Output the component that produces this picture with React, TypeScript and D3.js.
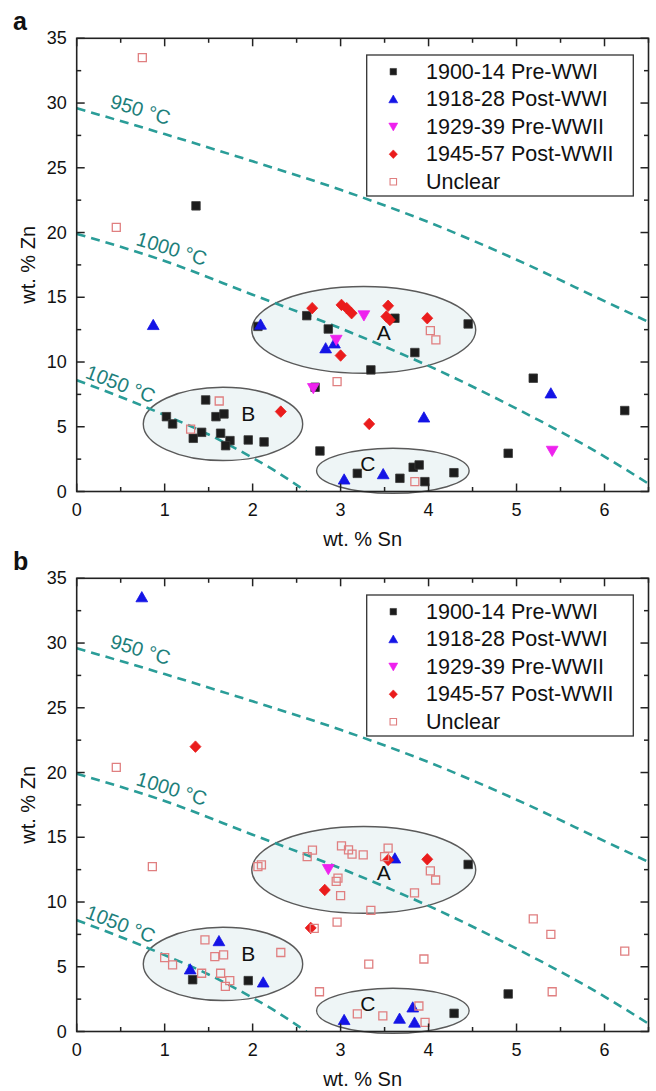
import React from "react";
import * as d3 from "d3";

// ---------- axis / tick data ----------
const xTickValues = [0, 1, 2, 3, 4, 5, 6];
const xMinorValues = [0.5, 1.5, 2.5, 3.5, 4.5, 5.5, 6.5];
const yTickValues = [0, 5, 10, 15, 20, 25, 30, 35];
const yMinorValues = [2.5, 7.5, 12.5, 17.5, 22.5, 27.5, 32.5];
const xDomain = [0, 6.5];
const yDomain = [0, 35];

const seriesNames = ["1900-14 Pre-WWI", "1918-28 Post-WWI", "1929-39 Pre-WWII", "1945-57 Post-WWII", "Unclear"];

// ---------- isotherms (wt.% Sn, wt.% Zn) ----------
const isotherm950 = [[0, 29.6], [1, 27.6], [2, 25.5], [3, 23.3], [4, 20.8], [5, 17.9], [6, 14.7], [6.5, 13.1]];
const isotherm1000 = [[0, 19.9], [1, 17.8], [2, 15.2], [3, 12.6], [4, 9.7], [5, 6.4], [6, 2.7], [6.5, 0.6]];
const isotherm1050 = [[0, 8.6], [0.5, 7.3], [1, 5.9], [1.5, 4.4], [2, 2.6], [2.3, 1.4], [2.61, 0]];
const isothermLabels = ["950 °C", "1000 °C", "1050 °C"];
const isothermLabelPos = [[0.725, 29.5], [1.08, 18.75], [0.5, 8.3]];
const isothermLabelAngle = [17, 17, 21];

// ---------- groups (ellipses) : cx, cy, rx, ry in data units ----------
const groupNames = ["A", "B", "C"];
const groupEllipses = [[3.263, 12.48, 1.273, 3.35], [1.663, 5.22, 0.906, 2.83], [3.594, 1.6, 0.867, 1.74]];
const groupLabelPos = [[3.49, 12.25], [1.95, 6.0], [3.31, 2.2]];

// ---------- panel a data ----------
const aPreWWI = [
  [1.356, 22.06], [2.06, 12.75], [2.615, 13.58], [2.86, 12.55], [2.71, 8.05], [1.466, 7.07], [1.02, 5.78],
  [1.09, 5.22], [1.325, 4.11], [1.42, 4.57], [1.583, 5.78], [1.674, 5.99], [1.636, 4.5], [1.742, 3.93],
  [1.693, 3.54], [1.95, 3.98], [2.13, 3.83], [2.765, 3.13], [3.617, 13.38], [4.45, 12.94], [3.844, 10.73],
  [3.344, 9.39], [5.19, 8.75], [6.23, 6.25], [4.905, 2.95], [3.19, 1.4], [3.674, 1.02], [3.825, 1.87],
  [3.893, 2.05], [3.958, 0.76], [4.288, 1.45],
];
const aPostWWI = [[0.87, 12.87], [2.09, 12.9], [2.83, 11.07], [2.93, 11.45], [5.39, 7.59], [3.947, 5.73], [3.04, 0.94], [3.484, 1.35]];
const aPreWWII = [[3.265, 13.59], [2.95, 11.7], [2.69, 7.97], [5.405, 3.13]];
const aPostWWII = [
  [2.677, 14.16], [3.01, 14.41], [3.07, 14.16], [3.125, 13.77], [3.54, 14.34], [3.52, 13.51], [3.56, 13.25],
  [3.985, 13.38], [3.0, 10.5], [3.325, 5.22], [2.32, 6.17],
];
const aUnclear = [[0.746, 33.5], [0.45, 20.4], [1.62, 6.99], [1.295, 4.81], [4.02, 12.43], [4.083, 11.71], [2.96, 8.49], [3.844, 0.76]];

// ---------- panel b data ----------
const bPreWWI = [[1.318, 4.0], [1.95, 3.93], [4.45, 12.9], [4.905, 2.9], [4.29, 1.4]];
const bPostWWI = [[0.74, 33.55], [1.617, 6.99], [1.29, 4.81], [2.12, 3.8], [3.617, 13.38], [3.04, 0.9], [3.67, 1.0], [3.82, 1.87], [3.84, 0.7]];
const bPreWWII = [[2.86, 12.53]];
const bPostWWII = [[1.35, 22.0], [2.82, 10.93], [2.66, 8.0], [3.54, 13.25], [3.985, 13.3]];
const bUnclear = [
  [0.45, 20.4], [0.86, 12.74], [2.06, 12.74], [2.1, 12.87], [2.62, 13.5], [2.68, 14.0], [2.7, 7.97],
  [1.458, 7.07], [1.0, 5.7], [1.09, 5.15], [1.42, 4.5], [1.57, 5.78], [1.67, 5.91], [1.636, 4.5],
  [1.74, 3.93], [1.69, 3.48], [2.32, 6.1], [2.76, 3.07], [3.01, 14.34], [3.09, 14.03], [3.13, 13.7],
  [3.257, 13.64], [3.54, 14.16], [3.5, 13.5], [2.95, 11.6], [2.97, 11.85], [3.0, 10.5], [4.02, 12.4],
  [4.08, 11.7], [3.84, 10.7], [3.344, 9.35], [2.96, 8.45], [5.19, 8.7], [5.39, 7.5], [6.23, 6.2],
  [3.32, 5.2], [3.947, 5.6], [5.405, 3.07], [3.19, 1.36], [3.48, 1.2], [3.89, 1.97], [3.96, 0.7],
];

// ---------- styles ----------
const FONT = "'Liberation Sans', Arial, Helvetica, sans-serif";
const TEAL = "#2a9d98";
const TEAL_TEXT = "#1d7f7b";
const markerFill = ["#1c1c1c", "#1414e6", "#ee22ee", "#ea1c1c", "none"];
const markerStroke = ["#3a3a3a", "#1414e6", "#ee22ee", "#ea1c1c", "#e07f80"];

function markerPath(kind: number, s: number): string {
  const h = s / 2;
  if (kind === 0 || kind === 4) return `M${-h},${-h}H${h}V${h}H${-h}Z`;
  if (kind === 1) return `M0,${-h * 1.05}L${h * 1.12},${h * 0.9}L${-h * 1.12},${h * 0.9}Z`;
  if (kind === 2) return `M0,${h * 1.05}L${h * 1.12},${-h * 0.9}L${-h * 1.12},${-h * 0.9}Z`;
  return `M0,${-h * 1.15}L${h * 1.1},0L0,${h * 1.15}L${-h * 1.1},0Z`;
}
const markerSize = [8.5, 10.5, 10.5, 10, 8];
const legendMarkerSize = [6.5, 8, 8, 7.5, 6.5];

const X0 = 76.7;
const X1 = 648.5;
const PLOT_H = 453.2;

function Panel({ top, letter, series }: { top: number; letter: string; series: number[][][] }) {
  const x = d3.scaleLinear().domain(xDomain).range([X0, X1]);
  const y = d3.scaleLinear().domain(yDomain).range([top + PLOT_H, top]);
  const bottom = top + PLOT_H;
  const line = d3
    .line<number[]>()
    .x((d) => x(d[0]))
    .y((d) => y(d[1]))
    .curve(d3.curveMonotoneX);
  const isotherms = [isotherm950, isotherm1000, isotherm1050];
  const axisColor = "#222";
  const major = 8;
  const minor = 4.5;
  const legX = 366.7;
  const legY = top + 16.7;
  return (
    <g>
      <text x={13} y={top - 8} fontFamily={FONT} fontWeight="bold" fontSize={25} fill="#111">
        {letter}
      </text>
      <defs>
        <clipPath id={`clip-${letter}`}>
          <rect x={X0} y={top} width={X1 - X0} height={PLOT_H} />
        </clipPath>
      </defs>
      {/* ellipses */}
      {groupEllipses.map((e, i) => (
        <ellipse
          key={"e" + i}
          cx={x(e[0])}
          cy={y(e[1])}
          rx={x(e[2]) - x(0)}
          ry={y(0) - y(e[3])}
          fill="#eef5f6"
          stroke="#5a5a5a"
          strokeWidth={1.4}
        />
      ))}
      {/* isotherm lines */}
      <g clipPath={`url(#clip-${letter})`}>
        {isotherms.map((pts, i) => (
          <path key={"iso" + i} d={line(pts) || ""} fill="none" stroke={TEAL} strokeWidth={2.6} strokeDasharray="9,6" />
        ))}
      </g>
      {isothermLabels.map((t, i) => (
        <text
          key={"isol" + i}
          transform={`translate(${x(isothermLabelPos[i][0])},${y(isothermLabelPos[i][1])}) rotate(${isothermLabelAngle[i]})`}
          textAnchor="middle"
          dominantBaseline="central"
          fontFamily={FONT}
          fontSize={20}
          fill={TEAL_TEXT}
        >
          {t}
        </text>
      ))}
      {groupNames.map((g, i) => (
        <text
          key={"g" + i}
          x={x(groupLabelPos[i][0])}
          y={y(groupLabelPos[i][1])}
          textAnchor="middle"
          dominantBaseline="central"
          fontFamily={FONT}
          fontSize={21}
          fill="#111"
        >
          {g}
        </text>
      ))}
      {/* points */}
      {series.map((pts, k) =>
        pts.map((p, j) => (
          <path
            key={`p${k}-${j}`}
            transform={`translate(${x(p[0])},${y(p[1])})`}
            d={markerPath(k, markerSize[k])}
            fill={k === 4 ? "#ffffff" : markerFill[k]}
            fillOpacity={k === 4 ? 0 : 1}
            stroke={markerStroke[k]}
            strokeWidth={k === 4 ? 1.3 : 0.8}
          />
        ))
      )}
      {/* frame */}
      <rect x={X0} y={top} width={X1 - X0} height={PLOT_H} fill="none" stroke={axisColor} strokeWidth={1.6} />
      {/* x ticks */}
      {xTickValues.map((v) => (
        <g key={"xt" + v}>
          <line x1={x(v)} x2={x(v)} y1={bottom} y2={bottom - major} stroke={axisColor} strokeWidth={1.5} />
          <line x1={x(v)} x2={x(v)} y1={top} y2={top + major} stroke={axisColor} strokeWidth={1.5} />
          <text x={x(v)} y={bottom + 24} textAnchor="middle" fontFamily={FONT} fontSize={18} fill="#111">
            {v}
          </text>
        </g>
      ))}
      {xMinorValues.map((v) => (
        <g key={"xm" + v}>
          <line x1={x(v)} x2={x(v)} y1={bottom} y2={bottom - minor} stroke={axisColor} strokeWidth={1.5} />
          <line x1={x(v)} x2={x(v)} y1={top} y2={top + minor} stroke={axisColor} strokeWidth={1.5} />
        </g>
      ))}
      {yTickValues.map((v) => (
        <g key={"yt" + v}>
          <line x1={X0} x2={X0 + major} y1={y(v)} y2={y(v)} stroke={axisColor} strokeWidth={1.5} />
          <line x1={X1} x2={X1 - major} y1={y(v)} y2={y(v)} stroke={axisColor} strokeWidth={1.5} />
          <text x={X0 - 10} y={y(v)} textAnchor="end" dominantBaseline="central" fontFamily={FONT} fontSize={18} fill="#111">
            {v}
          </text>
        </g>
      ))}
      {yMinorValues.map((v) => (
        <g key={"ym" + v}>
          <line x1={X0} x2={X0 + minor} y1={y(v)} y2={y(v)} stroke={axisColor} strokeWidth={1.5} />
          <line x1={X1} x2={X1 - minor} y1={y(v)} y2={y(v)} stroke={axisColor} strokeWidth={1.5} />
        </g>
      ))}
      {/* axis titles */}
      <text x={(X0 + X1) / 2} y={bottom + 54} textAnchor="middle" fontFamily={FONT} fontSize={20} fill="#111">
        wt. % Sn
      </text>
      <text
        transform={`translate(28,${(top + bottom) / 2}) rotate(-90)`}
        textAnchor="middle"
        dominantBaseline="central"
        fontFamily={FONT}
        fontSize={20}
        fill="#111"
      >
        wt. % Zn
      </text>
      {/* legend */}
      <rect x={legX} y={legY} width={266.6} height={141} fill="#ffffff" stroke="#333" strokeWidth={1.3} />
      {seriesNames.map((n, k) => (
        <g key={"l" + k} transform={`translate(0,${legY + 16.7 + k * 27.5})`}>
          <path
            transform={`translate(${legX + 26.6},0)`}
            d={markerPath(k, legendMarkerSize[k])}
            fill={k === 4 ? "none" : markerFill[k]}
            stroke={markerStroke[k]}
            strokeWidth={k === 4 ? 1.1 : 0.6}
          />
          <text x={legX + 59.3} y={0} dominantBaseline="central" fontFamily={FONT} fontSize={21.5} fill="#111">
            {n}
          </text>
        </g>
      ))}
    </g>
  );
}

export default function App() {
  return (
    <svg
      width={656}
      height={1091}
      viewBox="0 0 656 1091"
      style={{ position: "absolute", left: 0, top: 0, background: "#fff" }}
    >
      <rect x={0} y={0} width={656} height={1091} fill="#fff" />
      <Panel top={38.3} letter="a" series={[aPreWWI, aPostWWI, aPreWWII, aPostWWII, aUnclear]} />
      <Panel top={578.3} letter="b" series={[bPreWWI, bPostWWI, bPreWWII, bPostWWII, bUnclear]} />
    </svg>
  );
}
